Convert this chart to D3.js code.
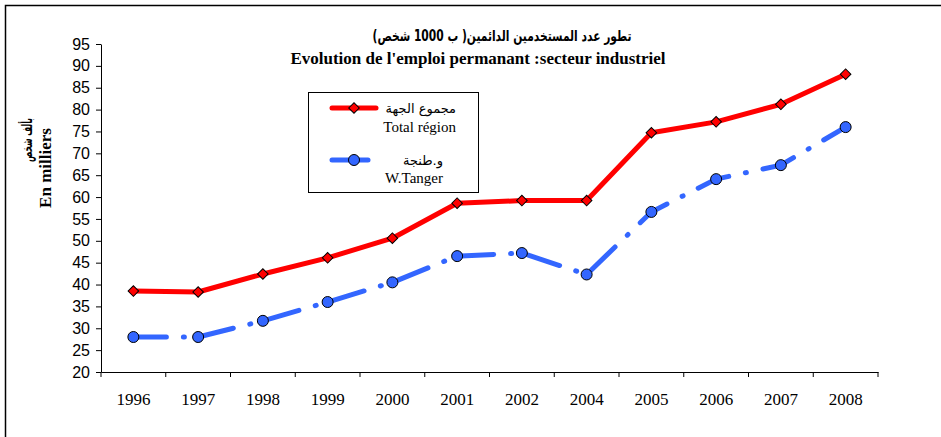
<html>
<head>
<meta charset="utf-8" />
<script src="https://cdnjs.cloudflare.com/ajax/libs/d3/7.8.5/d3.min.js"></script>
<style>
	body { margin: 0; background: #fff; }
	svg text { fill: #000; }
</style>
</head>
<body>
<div id="datavis"></div>
<script type="text/javascript">

	// categories (2003 missing in source)
	var years = ["1996", "1997", "1998", "1999", "2000", "2001", "2002", "2004", "2005", "2006", "2007", "2008"];
	// Total région
	var totalRegion = [38.5, 38.3, 42.4, 46.1, 50.6, 58.6, 59.2, 59.2, 74.7, 77.2, 81.2, 88.1];
	// W.Tanger
	var wTanger = [28.0, 28.0, 31.7, 36.0, 40.5, 46.5, 47.2, 42.3, 56.6, 64.1, 67.3, 76.0];
	var yTicks = [20, 25, 30, 35, 40, 45, 50, 55, 60, 65, 70, 75, 80, 85, 90, 95];

	var titleAr = "تطور عدد المستخدمين الدائمين( ب 1000 شخص)";
	var titleFr = "Evolution de l'emploi permanant :secteur industriel";
	var yLabelAr = "بألف شخص";
	var yLabelFr = "En milliers";
	var legendAr = ["مجموع الجهة", "و.طنجة"];
	var legendFr = ["Total région", "W.Tanger"];

	var W = 941, H = 437;
	var serif = "'Liberation Serif', 'Times New Roman', 'DejaVu Serif', serif";
	var sans = "'Liberation Sans', Arial, sans-serif";
	var arab = "'DejaVu Sans', 'Liberation Serif', sans-serif";

	var svg = d3.select("#datavis").append("svg")
		.attr("width", W).attr("height", H);

	// outer frame (top + left only visible)
	svg.append("path")
		.attr("d", "M5.5," + H + "V5.5H" + W)
		.attr("fill", "none").attr("stroke", "#000").attr("stroke-width", 1.5);

	var x = d3.scaleBand().domain(years).range([101, 878]).padding(0);
	var y = d3.scaleLinear().domain([20, 95]).range([372, 44]);

	// y axis
	var gy = svg.append("g")
		.attr("transform", "translate(101,0)")
		.call(d3.axisLeft(y).tickValues(yTicks).tickSize(5).tickSizeOuter(0).tickPadding(6));
	gy.selectAll("text").style("font-family", sans).style("font-size", "16px");
	gy.selectAll("line, path").attr("stroke", "#000");

	// x axis (labels centred, ticks between categories)
	var gx = svg.append("g")
		.attr("transform", "translate(0,372)")
		.call(d3.axisBottom(x).tickSize(0).tickSizeOuter(0).tickPadding(21));
	gx.selectAll("text").style("font-family", serif).style("font-size", "17px");
	gx.select("path").attr("stroke", "#000");
	gx.selectAll(".bnd")
		.data(years.map(function(d){ return x(d); }).concat([x.range()[1]]))
		.enter().append("line")
		.attr("class", "bnd")
		.attr("x1", function(d){ return d; }).attr("x2", function(d){ return d; })
		.attr("y1", 0).attr("y2", 5)
		.attr("stroke", "#000");

	var cx = function(d, i){ return x(years[i]) + x.bandwidth()/2; };
	var line = d3.line().x(function(d, i){ return cx(d, i); }).y(function(d){ return y(d); });

	// series lines
	svg.append("path").datum(wTanger)
		.attr("d", line)
		.attr("fill", "none").attr("stroke", "#3366ff").attr("stroke-width", 5)
		.attr("stroke-linecap", "round")
		.attr("stroke-dasharray", "33,17,1,17");

	svg.append("path").datum(totalRegion)
		.attr("d", line)
		.attr("fill", "none").attr("stroke", "#ff0000").attr("stroke-width", 5)
		.attr("stroke-linejoin", "round");

	var diamond = d3.symbol().type(d3.symbolSquare).size(56);

	svg.selectAll(".red").data(totalRegion).enter().append("path")
		.attr("class", "red")
		.attr("d", diamond)
		.attr("transform", function(d, i){ return "translate(" + cx(d, i) + "," + y(d) + ") rotate(45)"; })
		.attr("fill", "#ff0000").attr("stroke", "#000").attr("stroke-width", 1);

	svg.selectAll(".blue").data(wTanger).enter().append("circle")
		.attr("class", "blue")
		.attr("cx", cx).attr("cy", function(d){ return y(d); })
		.attr("r", 5.5)
		.attr("fill", "#3366ff").attr("stroke", "#000").attr("stroke-width", 1);

	// titles
	svg.append("text").attr("x", 502).attr("y", 41)
		.attr("text-anchor", "middle")
		.attr("textLength", 259).attr("lengthAdjust", "spacingAndGlyphs")
		.style("font-family", arab).style("font-size", "15px").style("font-weight", "bold")
		.text(titleAr);
	svg.append("text").attr("x", 478).attr("y", 64)
		.attr("text-anchor", "middle")
		.style("font-family", serif).style("font-size", "17px").style("font-weight", "bold")
		.text(titleFr);

	// y label
	var yl = svg.append("g").attr("transform", "rotate(-90)");
	yl.append("text").attr("x", -140).attr("y", 32)
		.attr("text-anchor", "middle")
		.attr("textLength", 44).attr("lengthAdjust", "spacingAndGlyphs")
		.style("font-family", arab).style("font-size", "14px").style("font-weight", "bold")
		.text(yLabelAr);
	yl.append("text").attr("x", -168).attr("y", 51)
		.attr("text-anchor", "middle")
		.style("font-family", serif).style("font-size", "17px").style("font-weight", "bold")
		.text(yLabelFr);

	// legend
	var lg = svg.append("g");
	lg.append("rect").attr("x", 308.5).attr("y", 92.5).attr("width", 170).attr("height", 100)
		.attr("fill", "#fff").attr("stroke", "#000").attr("stroke-width", 1);

	lg.append("line").attr("x1", 332).attr("x2", 376).attr("y1", 108).attr("y2", 108)
		.attr("stroke", "#ff0000").attr("stroke-width", 5).attr("stroke-linecap", "round");
	lg.append("path").attr("d", diamond)
		.attr("transform", "translate(354,108) rotate(45)")
		.attr("fill", "#ff0000").attr("stroke", "#000").attr("stroke-width", 1);
	lg.append("line").attr("x1", 332).attr("x2", 368).attr("y1", 160).attr("y2", 160)
		.attr("stroke", "#3366ff").attr("stroke-width", 5).attr("stroke-linecap", "round");
	lg.append("circle").attr("cx", 354).attr("cy", 160).attr("r", 5.5)
		.attr("fill", "#3366ff").attr("stroke", "#000").attr("stroke-width", 1);

	lg.append("text").attr("x", 456).attr("y", 113).attr("text-anchor", "end")
		.style("font-family", arab).style("font-size", "13px").text(legendAr[0]);
	lg.append("text").attr("x", 456).attr("y", 132).attr("text-anchor", "end")
		.style("font-family", serif).style("font-size", "15px").text(legendFr[0]);
	lg.append("text").attr("x", 443).attr("y", 165).attr("text-anchor", "end")
		.style("font-family", arab).style("font-size", "13px").text(legendAr[1]);
	lg.append("text").attr("x", 443).attr("y", 183).attr("text-anchor", "end")
		.style("font-family", serif).style("font-size", "15px").text(legendFr[1]);

</script>
</body>
</html>
